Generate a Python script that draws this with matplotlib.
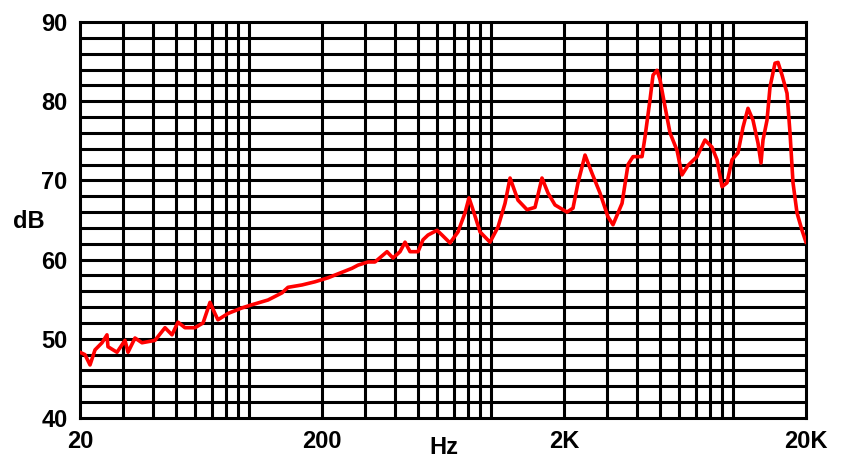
import matplotlib.pyplot as plt

# frequency response
freq_hz = [20, 20.97, 22.0, 23.07, 24.66, 25.85, 26.1, 28.44, 30.69, 31.58,
           33.75, 36.08, 40.82, 44.9, 48.0, 50.8, 54.3, 59.7, 64.5, 68.9,
           72.2, 74.3, 81.8, 93.4, 102.7, 119.7, 136.7, 144.7, 165.4, 187.1,
           211.7, 241.9, 266.0, 281.7, 309.8, 331.1, 371.2, 393.0, 420.2,
           440.7, 462.1, 498.7, 522.9, 548.4, 597.5, 626.6, 676.2, 729.6,
           779.7, 809.9, 841.3, 899.5, 988.9, 1067, 1141, 1197, 1291, 1407,
           1518, 1622, 1718, 1836, 2058, 2179, 2285, 2443, 2611, 2817, 3039,
           3188, 3474, 3678, 3857, 4202, 4324, 4534, 4666, 4847, 4987, 5230,
           5484, 5862, 6147, 6508, 7089, 7648, 8177, 8576, 8995, 9433, 9889,
           10471, 10981, 11516, 12079, 12668, 13035, 13286, 13802, 14202,
           14894, 15325, 15921, 16696, 17178, 17675, 18360, 19253, 20000]
level_db = [48.3, 48.0, 46.7, 48.6, 49.5, 50.5, 49.0, 48.3, 49.8, 48.3,
            50.1, 49.5, 49.8, 51.4, 50.5, 52.1, 51.4, 51.4, 52.0, 54.6,
            53.2, 52.4, 53.2, 53.9, 54.3, 54.9, 55.8, 56.5, 56.8, 57.2,
            57.7, 58.4, 58.9, 59.3, 59.7, 59.7, 61.0, 60.2, 61.0, 62.2,
            61.0, 61.0, 62.5, 63.1, 63.7, 63.1, 62.1, 63.5, 65.9, 67.8,
            66.3, 63.5, 62.2, 64.1, 67.1, 70.3, 67.5, 66.3, 66.6, 70.3,
            68.4, 66.9, 66.0, 66.5, 69.7, 73.2, 70.9, 68.4, 65.4, 64.4,
            67.1, 72.0, 73.0, 73.0, 75.5, 80.2, 83.3, 83.9, 82.7, 79.3,
            76.0, 73.8, 70.7, 71.9, 73.0, 75.1, 74.2, 72.6, 69.2, 69.7,
            72.6, 73.5, 76.7, 79.1, 77.6, 74.7, 72.2, 75.1, 77.6, 81.8,
            84.8, 84.9, 83.3, 81.0, 76.0, 69.7, 65.9, 63.7, 62.2]

xtick_vals = [20, 200, 2000, 20000]
xtick_labels = ["20", "200", "2K", "20K"]
ytick_vals = [40, 50, 60, 70, 80, 90]

fig = plt.figure(figsize=(8.44, 4.57), dpi=100)
ax = fig.add_axes([80 / 844, 39 / 457, 726 / 844, 396 / 457])

ax.plot(freq_hz, level_db, color="#ff0000", lw=2.6, zorder=3)

ax.set_xscale("log")
ax.set_xlim(20, 20000)
ax.set_ylim(40, 90)

# grid: every 1-2-...-9 per decade, every 2 dB
for dec in [10, 100, 1000, 10000]:
    for m in range(1, 10):
        v = dec * m
        if 20 < v < 20000:
            ax.axvline(v, color="black", lw=2.2, zorder=1)
for v in range(42, 90, 2):
    ax.axhline(v, color="black", lw=2.2, zorder=1)

for s in ax.spines.values():
    s.set_linewidth(2.2)

ax.set_xticks(xtick_vals)
ax.set_xticklabels(xtick_labels)
ax.xaxis.set_minor_locator(plt.NullLocator())
ax.set_yticks(ytick_vals)
ax.tick_params(length=0, labelsize=17, pad=9)
for lab in ax.get_xticklabels() + ax.get_yticklabels():
    lab.set_fontweight("bold")
    lab.set_family("Liberation Sans")

fig.text(29 / 844, 1 - 222 / 457, "dB", ha="center", va="center",
         fontsize=17, fontweight="bold", family="Liberation Sans")
fig.text(444 / 844, 1 - 447 / 457, "Hz", ha="center", va="center",
         fontsize=17, fontweight="bold", family="Liberation Sans")

fig.savefig("out.png", dpi=100)
